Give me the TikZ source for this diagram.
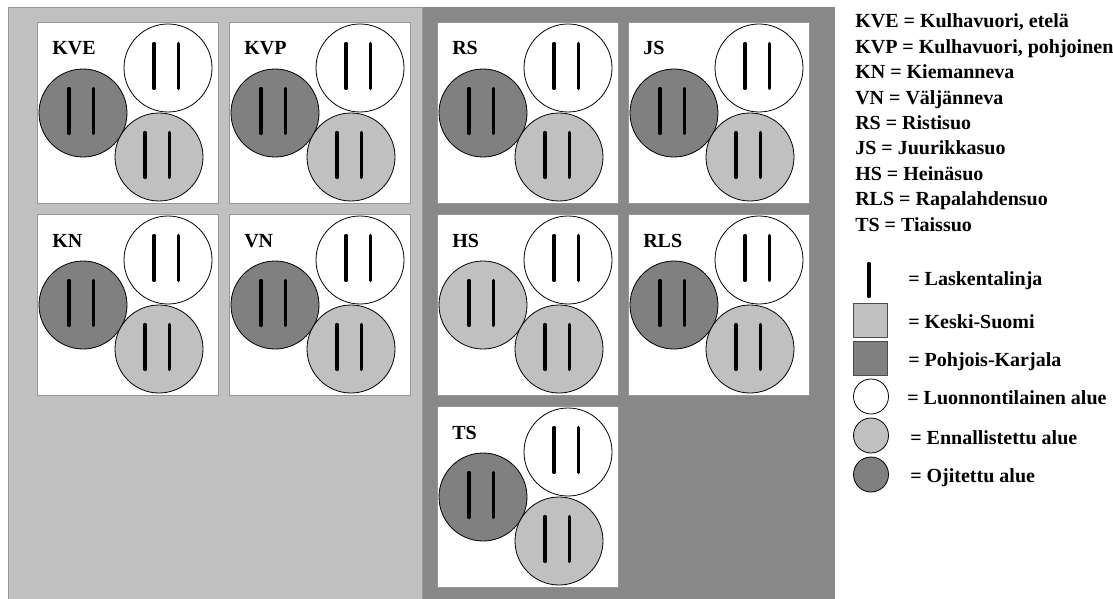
\documentclass[tikz,border=0pt]{standalone}
\usepackage{fontspec}
\setmainfont{Liberation Serif}
\definecolor{lgray}{RGB}{192,192,192}
\definecolor{dgray}{RGB}{128,128,128}
\definecolor{zonedark}{RGB}{136,136,136}
\definecolor{edgegray}{RGB}{150,150,150}
\begin{document}
\begin{tikzpicture}[x=0.75pt,y=-0.75pt,
  lbl/.style={font=\fontsize{15}{18}\selectfont\bfseries,inner sep=0pt,anchor=base west},
  circ/.style={draw=black,line width=0.6pt},
  bar/.style={line width=2.3pt,line cap=round}]
\useasboundingbox (0,0) rectangle (1113,599);
\fill[white] (0,0) rectangle (1113,599);
\filldraw[fill=lgray,draw=edgegray] (8.5,7.5) rectangle (422.5,610);
\fill[zonedark] (423,7) rectangle (835,610);
\foreach \px/\py/\lab/\fl in {37/22/KVE/dgray,229/22/KVP/dgray,37/214/KN/dgray,229/214/VN/dgray,
    437/22/RS/dgray,628/22/JS/dgray,437/214/HS/lgray,628/214/RLS/dgray,437/406/TS/dgray}{
  \filldraw[fill=white,draw=edgegray] (\px,\py) rectangle ++(181,181);
  \node[lbl] (l\lab) at (\px+15,\py+33) {\lab};
  \foreach \cx/\cy/\cf in {46/91/\fl,131/46/white,122/135/lgray}{
    \draw[circ,fill=\cf] (\px+\cx,\py+\cy) circle (44);
    \draw[bar] (\px+\cx-14,\py+\cy-24.5) -- ++(0,45);
    \draw[bar] (\px+\cx+10.5,\py+\cy-24.5) -- ++(0,45);
  }
}
\foreach \t [count=\i from 0] in {{KVE = Kulhavuori, etelä},{KVP = Kulhavuori, pohjoinen},
    {KN = Kiemanneva},{VN = Väljänneva},{RS = Ristisuo},{JS = Juurikkasuo},
    {HS = Heinäsuo},{RLS = Rapalahdensuo},{TS = Tiaissuo}}{
  \node[lbl] (k\i) at (855,28+25.4*\i) {\t};
}
\draw[bar] (869,263.5) -- (869,296.5);
\filldraw[fill=lgray,draw=black!70] (853,303) rectangle (887,337);
\filldraw[fill=dgray,draw=black!70] (853,341) rectangle (887,375);
\draw[circ,fill=white] (871,396.5) circle (17.5);
\draw[circ,fill=lgray] (871,435.5) circle (17.5);
\draw[circ,fill=dgray] (871,474.5) circle (17.5);
\node[lbl] (m1) at (908,285) {= Laskentalinja};
\node[lbl] (m2) at (908,328) {= Keski-Suomi};
\node[lbl] (m3) at (908,366) {= Pohjois-Karjala};
\node[lbl] (m4) at (907,404) {= Luonnontilainen alue};
\node[lbl] (m5) at (910,444) {= Ennallistettu alue};
\node[lbl] (m6) at (910,482) {= Ojitettu alue};
\end{tikzpicture}
\end{document}
